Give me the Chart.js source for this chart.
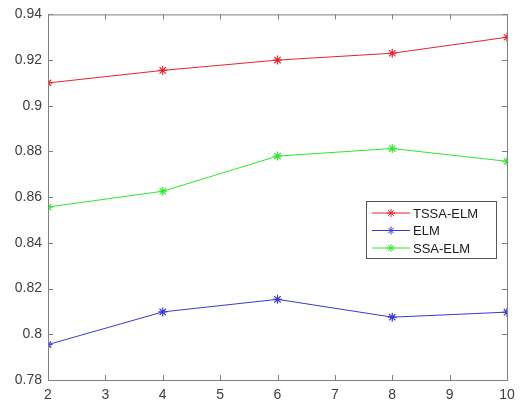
<!DOCTYPE html>
<html>
<head>
<meta charset="utf-8">
<script src="https://cdn.jsdelivr.net/npm/chart.js@4/dist/chart.umd.min.js"></script>
<style>
    html, body { margin: 0; padding: 0; background: #fff; }
    #wrap { width: 530px; height: 405px; }
</style>
</head>
<body>
<div id="wrap"><canvas id="chart"></canvas></div>
<script>
'use strict';

// Data
const xValues = [2, 4, 6, 8, 10];
const tssaElm = [0.910, 0.9155, 0.920, 0.923, 0.930];
const elm = [0.7955, 0.8098, 0.8153, 0.8075, 0.8097];
const ssaElm = [0.8557, 0.8626, 0.878, 0.8813, 0.8757];

const seriesNames = ['TSSA-ELM', 'ELM', 'SSA-ELM'];
const seriesColors = ['#e8232f', '#3a3ad0', '#2ee82e'];
const axisColor = '#808080';
const labelColor = '#404040';

// Make points
function toPoints(ys) {
    return xValues.map((x, i) => ({ x: x, y: ys[i] }));
}

// Box and inner tick marks, MATLAB style
const boxPlugin = {
    id: 'boxPlugin',
    afterDraw(chart) {
        const ctx = chart.ctx;
        const a = chart.chartArea;
        const len = 5;
        ctx.save();
        ctx.strokeStyle = axisColor;
        ctx.lineWidth = 1;
        ctx.strokeRect(a.left + 0.5, a.top + 0.5, a.right - a.left, a.bottom - a.top);
        ctx.beginPath();
        chart.scales.x.ticks.forEach((t) => {
            let px = Math.round(chart.scales.x.getPixelForValue(t.value)) + 0.5;
            ctx.moveTo(px, a.bottom);
            ctx.lineTo(px, a.bottom - len);
            ctx.moveTo(px, a.top);
            ctx.lineTo(px, a.top + len);
        });
        chart.scales.y.ticks.forEach((t) => {
            let py = Math.round(chart.scales.y.getPixelForValue(t.value)) + 0.5;
            ctx.moveTo(a.left, py);
            ctx.lineTo(a.left + len, py);
            ctx.moveTo(a.right, py);
            ctx.lineTo(a.right - len, py);
        });
        ctx.stroke();
        ctx.restore();
    }
};

// Legend box inside the axes
const legendPlugin = {
    id: 'legendPlugin',
    afterDraw(chart) {
        const ctx = chart.ctx;
        const x0 = 366, y0 = 201, w = 130, h = 57;
        ctx.save();
        ctx.fillStyle = '#fff';
        ctx.fillRect(x0, y0, w, h);
        ctx.strokeStyle = '#555';
        ctx.lineWidth = 1;
        ctx.strokeRect(x0 + 0.5, y0 + 0.5, w, h);
        ctx.font = '13px "Liberation Sans", Arial, sans-serif';
        ctx.textBaseline = 'middle';
        chart.data.datasets.forEach((ds, i) => {
            let y = y0 + 12 + i * 17.5;
            ctx.strokeStyle = ds.borderColor;
            ctx.beginPath();
            ctx.moveTo(x0 + 6, y);
            ctx.lineTo(x0 + 44, y);
            ctx.stroke();
            Chart.helpers.drawPoint(ctx, {
                pointStyle: 'star', radius: 4, borderWidth: 1
            }, x0 + 25, y);
            ctx.fillStyle = '#202020';
            ctx.fillText(ds.label, x0 + 47, y + 1);
        });
        ctx.restore();
    }
};

const seriesValues = [tssaElm, elm, ssaElm];
const datasets = seriesValues.map((vals, i) => ({
    label: seriesNames[i],
    data: toPoints(vals),
    borderColor: seriesColors[i],
    backgroundColor: seriesColors[i],
    borderWidth: 1,
    pointStyle: 'star',
    pointRadius: 4.5,
    pointBorderWidth: 1.2,
    tension: 0
}));

new Chart(document.getElementById('chart').getContext('2d'), {
    type: 'line',
    data: { datasets: datasets },
    plugins: [boxPlugin, legendPlugin],
    options: {
        responsive: true,
        maintainAspectRatio: false,
        animation: false,
        layout: { padding: { top: 14, right: 23, left: 0, bottom: 0 } },
        plugins: {
            legend: { display: false },
            tooltip: { enabled: false }
        },
        scales: {
            x: {
                type: 'linear',
                min: 2,
                max: 10,
                grid: { display: false, drawTicks: false },
                border: { display: false },
                ticks: {
                    stepSize: 1,
                    color: labelColor,
                    font: { size: 14, family: '"Liberation Sans", Arial, sans-serif' },
                    padding: 7
                },
                afterFit: (scale) => { scale.height = 25; }
            },
            y: {
                min: 0.78,
                max: 0.94,
                grid: { display: false, drawTicks: false },
                border: { display: false },
                ticks: {
                    stepSize: 0.02,
                    color: labelColor,
                    font: { size: 14, family: '"Liberation Sans", Arial, sans-serif' },
                    padding: 6,
                    callback: (v) => String(Number(v.toFixed(2)))
                },
                afterFit: (scale) => { scale.width = 48; }
            }
        }
    }
});
</script>
</body>
</html>
